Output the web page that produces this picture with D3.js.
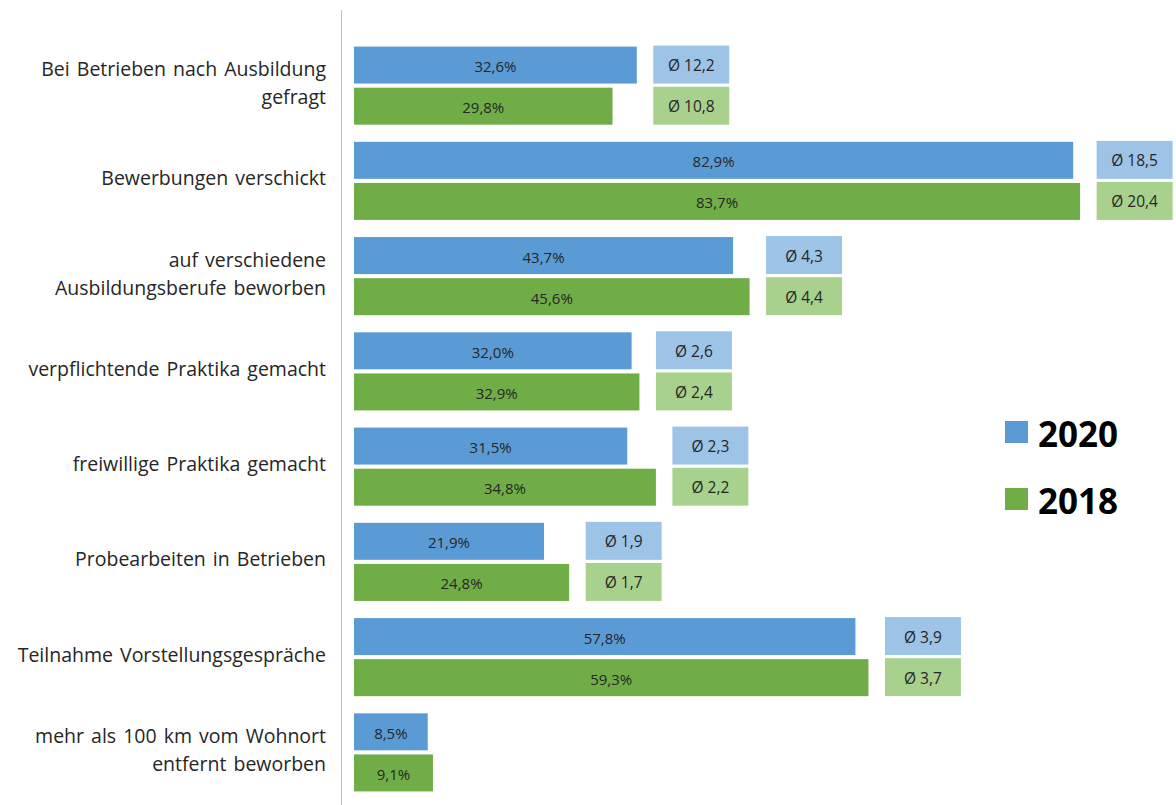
<!DOCTYPE html>
<html>
<head>
<meta charset="utf-8">
<script src="https://cdn.jsdelivr.net/npm/d3@7"></script>
<style>
  html, body { margin: 0; padding: 0; background: #fff; }
  svg { display: block; font-family: "Open Sans", "Noto Sans", sans-serif; }
</style>
</head>
<body>
<div id="chart"></div>
<script>
// categories (line breaks as in the original)
const categories = [
  ["Bei Betrieben nach Ausbildung", "gefragt"],
  ["Bewerbungen verschickt"],
  ["auf verschiedene", "Ausbildungsberufe beworben"],
  ["verpflichtende Praktika gemacht"],
  ["freiwillige Praktika gemacht"],
  ["Probearbeiten in Betrieben"],
  ["Teilnahme Vorstellungsgespräche"],
  ["mehr als 100 km vom Wohnort", "entfernt beworben"]
]

const years = ["2020", "2018"]

// share in percent
const values2020 = [32.6, 82.9, 43.7, 32.0, 31.5, 21.9, 57.8, 8.5]
const values2018 = [29.8, 83.7, 45.6, 32.9, 34.8, 24.8, 59.3, 9.1]

// average count (Ø), null = not shown
const avg2020 = [12.2, 18.5, 4.3, 2.6, 2.3, 1.9, 3.9, null]
const avg2018 = [10.8, 20.4, 4.4, 2.4, 2.2, 1.7, 3.7, null]

const colors = { "2020": "#5b9bd5", "2018": "#70ad47" }
const boxColors = { "2020": "#9dc3e6", "2018": "#a9d18e" }

const width = 1176
const height = 805

const fmt = (v) => v.toFixed(1).replace(".", ",")

const svg = d3.select("#chart")
  .append("svg")
  .attr("width", width)
  .attr("height", height)

const x = d3.scaleLinear().domain([0, 100]).range([354, 1221.5])

const y = d3.scaleBand()
  .domain(d3.range(categories.length))
  .range([38, 800])
  .paddingInner(0.18)
  .paddingOuter(0.09)

const ySub = d3.scaleBand()
  .domain(years)
  .range([0, y.bandwidth()])
  .paddingInner(0.1)

// vertical axis line
svg.append("line")
  .attr("x1", 341.5).attr("x2", 341.5)
  .attr("y1", 10).attr("y2", height)
  .attr("stroke", "#bfbfbf")
  .attr("stroke-width", 1)

const rows = categories.map((c, i) => ({
  i,
  label: c,
  vals: [
    { year: "2020", v: values2020[i], avg: avg2020[i] },
    { year: "2018", v: values2018[i], avg: avg2018[i] }
  ]
}))

const group = svg.append("g")
  .selectAll("g")
  .data(rows)
  .join("g")
  .attr("transform", (d) => `translate(0,${y(d.i)})`)

// category labels
group.append("text")
  .attr("x", 326)
  .attr("text-anchor", "end")
  .attr("font-size", "19.5px")
  .attr("fill", "#262626")
  .style("word-spacing", "2px")
  .selectAll("tspan")
  .data((d) => d.label.map((t, k) => ({ t, k, n: d.label.length })))
  .join("tspan")
  .attr("x", 326)
  .attr("y", (d) => y.bandwidth() / 2 + (d.k - (d.n - 1) / 2) * 28 - 3)
  .attr("dominant-baseline", "central")
  .text((d) => d.t)

// bars
group.selectAll("rect.bar")
  .data((d) => d.vals)
  .join("rect")
  .attr("class", "bar")
  .attr("x", x(0))
  .attr("y", (d) => ySub(d.year))
  .attr("width", (d) => x(d.v) - x(0))
  .attr("height", ySub.bandwidth())
  .attr("fill", (d) => colors[d.year])

group.selectAll("text.val")
  .data((d) => d.vals)
  .join("text")
  .attr("class", "val")
  .attr("x", (d) => (x(0) + x(d.v)) / 2)
  .attr("y", (d) => ySub(d.year) + ySub.bandwidth() / 2 + 1)
  .attr("text-anchor", "middle")
  .attr("dominant-baseline", "central")
  .attr("font-size", "15px")
  .attr("fill", "#262626")
  .text((d) => fmt(d.v) + "%")

// average boxes, placed right of the longer bar
const boxW = 77
const boxes = group.selectAll("g.avg")
  .data((d) => {
    const end = x(Math.max(...d.vals.map((v) => v.v))) + 16
    return d.vals.filter((v) => v.avg != null).map((v) => ({ ...v, bx: end }))
  })
  .join("g")
  .attr("class", "avg")

boxes.append("rect")
  .attr("x", (d) => d.bx)
  .attr("y", (d) => ySub(d.year) - 1.5)
  .attr("width", boxW)
  .attr("height", ySub.bandwidth() + 2)
  .attr("fill", (d) => boxColors[d.year])
  .attr("stroke", "#fff")
  .attr("stroke-width", 1)

boxes.append("text")
  .attr("x", (d) => d.bx + boxW / 2)
  .attr("y", (d) => ySub(d.year) + ySub.bandwidth() / 2)
  .attr("text-anchor", "middle")
  .attr("dominant-baseline", "central")
  .attr("font-size", "15.5px")
  .attr("fill", "#262626")
  .text((d) => "Ø " + fmt(d.avg))

// legend
const legend = svg.append("g")
  .selectAll("g")
  .data(years)
  .join("g")
  .attr("transform", (d, i) => `translate(1005,${421 + i * 67})`)

legend.append("rect")
  .attr("width", 23)
  .attr("height", 22)
  .attr("fill", (d) => colors[d])

legend.append("text")
  .attr("x", 33)
  .attr("y", 12)
  .attr("dominant-baseline", "central")
  .attr("font-size", "35px")
  .attr("font-weight", "bold")
  .attr("fill", "#000")
  .text((d) => d)
</script>
</body>
</html>
